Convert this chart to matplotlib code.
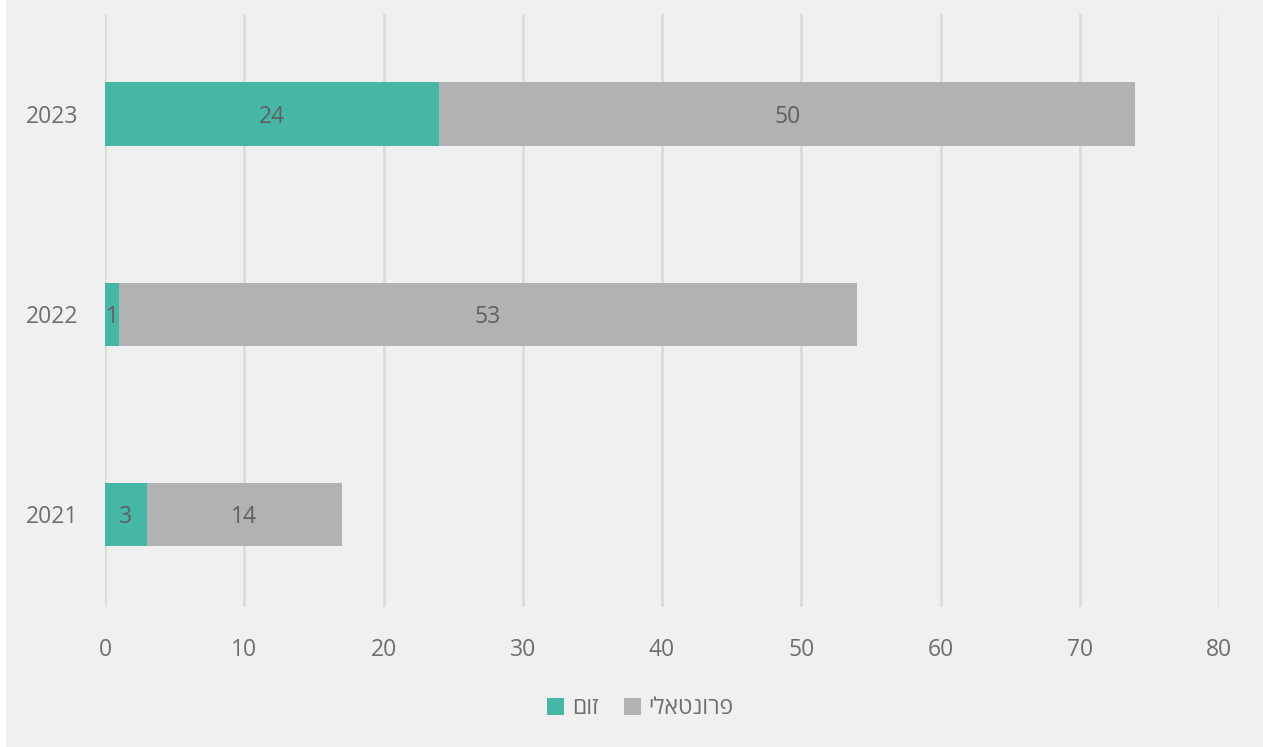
import matplotlib.pyplot as plt
from matplotlib.patches import Rectangle

years = ["2021", "2022", "2023"]
zoom = [3, 1, 24]
frontal = [14, 53, 50]
# hebrew labels, reversed because matplotlib draws left-to-right
zoom_label = "זום"[::-1]
frontal_label = "פרונטאלי"[::-1]

green = "#45b7a4"
grey = "#b1b2b4"
text_col = "#6e6e6e"

plt.rcParams['font.family'] = ['Open Sans', 'DejaVu Sans']

fig = plt.figure(figsize=(12.63, 7.47), dpi=100, facecolor="#f0f0f0")
fig.patches.append(Rectangle((0, 0), 6 / 1263, 1, transform=fig.transFigure,
                             facecolor="white", edgecolor="none", zorder=-1))
ax = fig.add_axes([105 / 1263, 1 - 607 / 747, (1219 - 105) / 1263, (607 - 14) / 747])
ax.set_facecolor("#f0f0f0")

y = range(len(years))
b1 = ax.barh(y, zoom, height=0.315, color=green, label=zoom_label, zorder=3)
b2 = ax.barh(y, frontal, left=zoom, height=0.315, color=grey, label=frontal_label, zorder=3)
labels = ax.bar_label(b1, label_type="center", color="#606060", fontsize=16.5)
labels += ax.bar_label(b2, label_type="center", color="#606060", fontsize=16.5)
for t in labels:
    t.xyann = (0, -2.2)  # nudge down a little

ax.set_xlim(0, 80)
ax.set_ylim(-0.465, 2.5)
ax.set_xticks(range(0, 81, 10))
ax.set_yticks(list(y))
ax.set_yticklabels(years)
ax.grid(axis="x", color="#dcdcdc", linewidth=2, zorder=0)
for s in ax.spines.values():
    s.set_visible(False)
ax.tick_params(axis="x", length=0, pad=22, labelsize=16.5, labelcolor=text_col)
ax.tick_params(axis="y", length=0, pad=19, labelsize=16.5, labelcolor=text_col)

fig.legend(loc="center", bbox_to_anchor=(0.507, 0.052), ncol=2, frameon=False,
           fontsize=16.5, labelcolor=text_col, handlelength=0.75, handleheight=0.75,
           handletextpad=0.35, columnspacing=1.1)

fig.savefig("out.png", dpi=100, facecolor=fig.get_facecolor())
